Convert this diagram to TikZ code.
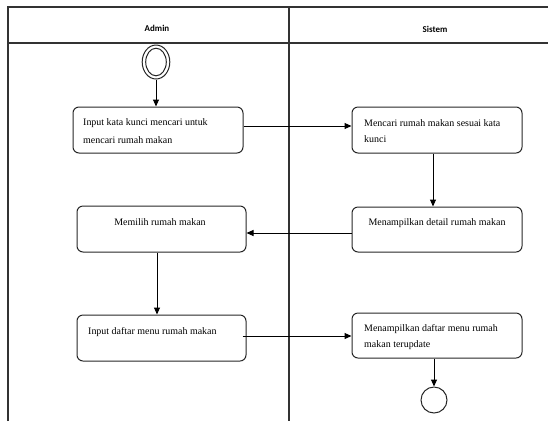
\documentclass[tikz,border=0pt]{standalone}
\usepackage{fontspec}
\setmainfont{Liberation Serif}
\newfontfamily\headfont{Carlito}
\usetikzlibrary{arrows.meta,shapes.geometric}

\begin{document}
\begin{tikzpicture}[x=1bp,y=-1bp,
  lane/.style={draw=black!80, line width=1.1bp},
  actbox/.style={draw=black!85, line width=1bp, rounded corners=6bp,
    minimum width=170bp, minimum height=46bp, inner sep=0pt},
  acttext/.style={inner sep=0pt, align=left, font=\fontsize{10}{16}\selectfont},
  flow/.style={draw=black, line width=1bp, -{Triangle[length=7bp,width=6bp]}},
  lanehead/.style={font=\headfont\bfseries\fontsize{9}{11}\selectfont},
]
\useasboundingbox (0,0) rectangle (548,421);

% swimlanes
\draw[lane] (8,421) -- (8,7) -- (548,7);
\draw[lane] (8,43) -- (548,43);
\draw[lane] (289,7) -- (289,421);
\node[lanehead] (hAdmin) at (157,28) {Admin};
\node[lanehead] (hSistem) at (435,29) {Sistem};

% initial node
\node[draw=black!85, line width=1bp, ellipse, minimum width=27.6bp, minimum height=34bp, inner sep=0pt] (start) at (156,62) {};
\node[draw=black!85, line width=1bp, ellipse, minimum width=20.6bp, minimum height=27.6bp, inner sep=0pt] (startin) at (156,62) {};

% activities
\node[actbox] (a1) at (158,130) {};
\node[actbox] (a2) at (437,130) {};
\node[actbox, minimum height=45bp] (a3) at (437,229.5) {};
\node[actbox, minimum width=169bp] (a4) at (161.5,229) {};
\node[actbox, minimum width=169bp] (a5) at (161.5,338) {};
\node[actbox, minimum height=45bp] (a6) at (437,335.5) {};

\node[acttext, anchor=west, font=\fontsize{10}{18}\selectfont] (t1) at (83,131) {Input kata kunci mencari untuk\\mencari rumah makan};
\node[acttext, anchor=west] (t2) at (364,131) {Mencari rumah makan sesuai kata\\kunci};
\node[acttext] (t3) at (437,223) {Menampilkan detail rumah makan};
\node[acttext] (t4) at (160,222) {Memilih rumah makan};
\node[acttext, anchor=west] (t5) at (88,332) {Input daftar menu rumah makan};
\node[acttext, anchor=west] (t6) at (364,337) {Menampilkan daftar menu rumah\\makan terupdate};

% final node
\node[draw=black!85, line width=1bp, circle, minimum size=26bp, inner sep=0pt] (stop) at (434,400) {};

% control flow
\draw[flow] (start.south) -- (start.south |- a1.north);
\draw[flow] ([yshift=4bp]a1.east) -- ([yshift=4bp]a1.east -| a2.west);
\draw[flow] ([xshift=-4bp]a2.south) -- ([xshift=-4bp]a2.south |- a3.north);
\draw[flow] ([yshift=-3.5bp]a3.west) -- ([yshift=-3.5bp]a3.west -| a4.east);
\draw[flow] ([xshift=-4.5bp]a4.south) -- ([xshift=-4.5bp]a4.south |- a5.north);
\draw[flow] ([yshift=2bp,xshift=-4bp]a5.east) -- ([yshift=2bp]a5.east -| a6.west);
\draw[flow] ([xshift=-3bp]a6.south) -- ([xshift=-3bp]a6.south |- stop.north);
\end{tikzpicture}
\end{document}
